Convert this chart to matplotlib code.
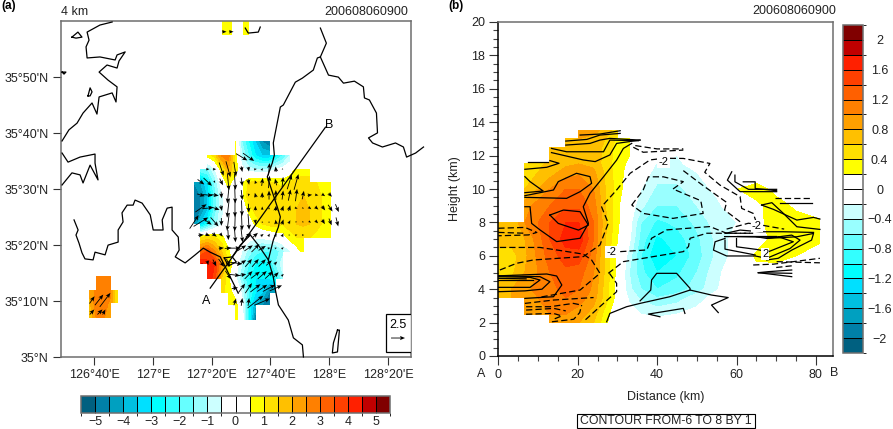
import numpy as np
import matplotlib
matplotlib.use('Agg')
import matplotlib.pyplot as plt
from matplotlib.colors import ListedColormap, BoundaryNorm
from matplotlib.patches import Rectangle
from matplotlib.ticker import MultipleLocator

plt.rcParams['font.family'] = ['Liberation Sans', 'DejaVu Sans']
plt.rcParams['font.size'] = 9

n = np.nan
W, H = 893, 429

shade_colors = ['#006080', '#0080A8', '#00A0C0', '#00C0E0', '#00E0FF', '#00FFFF', '#33FFFF',
                '#66FFFF', '#99FFFF', '#CCFFFF', '#FFFFFF', '#FFFFFF', '#FFFF00', '#FFE000',
                '#FFC000', '#FFA000', '#FF8000', '#FF6000', '#FF4000', '#FF2000', '#C00000', '#800000']
w_levels = np.arange(-5.5, 5.51, 0.5)
t_levels = np.arange(-2.2, 2.21, 0.2)

# panel a: shaded field
grid_lons = np.linspace(127.234, 128.007, 21)
grid_lats = [35.640, 35.599, 35.559, 35.518, 35.479, 35.437, 35.396, 35.357, 35.315, 35.277,
             35.235, 35.193, 35.155, 35.113]
map_field = [
    [n, n, n, n, n, n, 0.6, -1.5, -2.5, -3.5, -4.5, -5, n, n, n, n, n, n, n, n, n],
    [n, n, 0.7, 1.2, 2.5, 2.8, 0.8, -1, -2, -3, -3.5, -3.5, -2.8, -2, -1, n, n, n, n, n, n],
    [n, -1.5, -1.5, -0.6, 0.8, 2, 1, -0.3, -0.8, -1, -1, -1, -0.5, -0.3, 0, 0.6, 0.8, 0.8, n, n, n],
    [-4.5, -4, -3, -1.5, -0.2, 0.8, 0, 0.3, 1.1, 1.2, 1.2, 1.2, 1, 0.8, 1, 1.2, 1.2, 1.2, 1, 0.8, 0.7],
    [-5, -4.5, -3.5, -1.8, -0.7, 0, 0, 0.3, 1.3, 1.3, 1.3, 1.3, 1.3, 1.3, 1.5, 1.5, 1.5, 1.5, 1.2, 0.9, 0.7],
    [-5, -4.5, -3.5, -1.8, -0.7, 0, 0, 0, 0.6, 1.2, 1.3, 1.3, 1.3, 1.3, 1.5, 1.5, 1.6, 1.5, 1.2, 0.9, 0.7],
    [-4.5, -3.5, -2.5, -1.3, -0.6, 0, 0, 0, 0.1, 0.6, 1, 1.2, 1.3, 1, 1.2, 1.5, 1.6, 1.5, 1.2, 0.9, 0.7],
    [n, 0.9, 1.1, 1, 0.7, 0, 0, 0, -0.2, -0.3, -0.3, -0.2, 0, 0.2, 0.8, 1, 1, 1, 0.8, 0.7, 0.6],
    [n, 3, 3.5, 2.5, 1.5, 0.6, 0, -0.5, -1.2, -1.8, -2, -2, -1.8, -1.2, -0.6, 0.2, 0.7, n, n, n, n],
    [n, 4.6, 4.2, 4, 2.5, 1, 0, -1, -2, -2.5, -2.8, -2.5, -1.5, -0.7, n, n, n, n, n, n, n],
    [n, n, 4.3, 3.8, 1.5, 0.6, -0.3, -1.5, -2.5, -3, -3, -3, -2.5, -1.2, n, n, n, n, n, n, n],
    [n, n, n, n, 1.2, 0.8, 0.2, -0.6, -2, -3, -3.5, -4.5, -4.5, n, n, n, n, n, n, n, n],
    [n, n, n, n, n, 0.8, 0.8, -0.2, -2.5, -4, -4.5, -5, n, n, n, n, n, n, n, n, n],
    [n, n, n, n, n, n, 0.8, 0, -2.5, -5, n, n, n, n, n, n, n, n, n, n, n],
]
patch_lons = [126.638, 126.678, 126.717, 126.757, 126.797]
patch_lats = [35.241, 35.199, 35.161, 35.119]
patch_field = [
    [n, 2.7, 2.8, 2.8, n],
    [2, 2.7, 2.8, 2.7, 1],
    [1.8, 2.8, 2.8, 2.4, 1],
    [1.5, 2.5, 2.6, 2.2, n],
]
top_lons = [127.393, 127.45, 127.48, 127.513, 127.547]
top_lats = [35.958, 36.0]
top_field = [[0.8, 0.8, n, 0.8, 0.8], [0.8, 0.8, n, 0.8, 0.8]]

# panel a: wind arrows, one row per latitude (first column index, u, v)
arrow_lons = np.linspace(127.234, 128.045, 22)
arrow_lats = [35.595, 35.559, 35.521, 35.482, 35.443, 35.402, 35.363, 35.324, 35.280, 35.244, 35.205, 35.164]
arrow_start = [7, 2, 1, 1, 1, 0, 1, 4, 2, 5, 6, 6]
arrow_u = [
    [2, 2],
    [0.6, 0.6, 0.8, 0.8, 0.4, 0.2, 0.1, 0.5, 0.3, 0.2, -0.1, 0.2],
    [1.2, 1.5, 0.2, 0.6, 0.3, 0.2, 0.2, 0.2, -0.2, 0.2, 0.2, -0.3, 0.2, 0.8, 0.8],
    [1.4, 1.8, 1.5, 0.1, -0.3, 0.1, 0.2, -0.1, -0.2, 0, 0, 0, 0.2, 0.4, 0.3, 0.3, 0.8, 0.6, 0.6, 0.6],
    [2, 2, 1.8, 0.2, -0.4, 0, 0.1, 0.1, 0, 0, 0, 0.1, 0.3, 0.3, 0.5, 0.3, 0.5, 0.6, 0.6, 0.8, 0.6],
    [1.6, 2.6, 1.4, 1.4, 0, -0.4, -0.1, 0.1, 0.2, 0.1, -0.1, 0, -0.1, 0.3, 0.3, 0.3, 0.3, 0.4, 0.5, 0.5, 0.5, 0.4],
    [1, 0.8, 0.8, 0.5, 0.1, 0.2, 0.3, 1, 0.9, 0.5, 0.3, 0.3, 0.3, 0.3, 0.4, 0.4],
    [0.9, 1.2, 2, 1.6, 1.5, 1.4, 1.3, 0.5, 0.4, 0.4],
    [0.2, 0.6, 1, 0.6, 2.6, 1.6, 1.2, 1.2, 1.3, 1, 0.5],
    [1, 1.8, 1.6, 1.4, 1.6, 1.6, 1.4, 1, 0.4],
    [1.1, 1.2, 1.2, 1.8, 1.8, 2.2, 2.2],
    [0.4, 0.2, 0.2, 2.8, 2.8],
]
arrow_v = [
    [-1.2, -1.4],
    [0, 0, -2.4, -2.8, -2.6, -1, -0.8, 0.1, 0.4, 2.2, 1, -0.2],
    [-0.9, -1.4, -0.4, -1.2, -3, -2.8, -1.5, -1, 0.6, 1.4, 2.2, 1.2, 1.8, 2.6, 2.8],
    [-0.4, -0.2, -0.2, -1.2, -3, -3, -1.8, -0.5, 0.8, 1, 1.6, 1.8, 1.6, 2, 2.2, 1.5, 0.1, -0.1, -0.4, -0.6],
    [1.4, 0.2, -0.6, -1, -3.4, -3.2, -2.8, -1.6, 0.8, 0.6, 0.4, 0.9, 0.9, 1, -0.2, -0.2, -0.4, -0.5, -0.8, -1.2, -1.4],
    [2.4, 1.6, -1, -1.6, -1.4, -3.2, -3.4, -3, -2.8, -0.8, 0.3, 0.3, 0.8, 0.9, 0.6, 0, -0.1, -0.3, -0.5, -0.8, -1.2, -1.6],
    [0.1, -0.3, -0.6, -0.6, -1.8, -2.6, -2.6, 0.6, 0.8, 0.4, 0.5, 0.5, 0.6, 0, 0.1, 0],
    [0.1, 0.1, 0, 1, 1, 1.4, 0.8, 0.1, 0.1, 0.3],
    [-0.8, -1.2, -1.4, -1.4, -0.4, 1, 1.4, 1.4, 1.3, 0.9, 0.5],
    [-1.5, -0.2, 0.3, 1.4, 1.2, 1.4, 1.3, 1, 0.4],
    [0.2, 1.6, 1.8, 1.4, 1.2, 1.2, 1],
    [1.2, 1.4, 1.4, 2.2, 1.2],
]
patch_arrow_lon = [126.655, 126.695, 126.729, 126.655, 126.700, 126.723]
patch_arrow_lat = [35.170, 35.170, 35.170, 35.134, 35.134, 35.134]
patch_arrow_u = [0.9, 1.5, 1.9, 0.8, 0.9, 0.5]
patch_arrow_v = [1.3, 1.9, 2.5, 0.9, 0.9, 0.9]
top_arrow_lon = [127.405, 127.445]
top_arrow_lat = [35.968, 35.968]
top_arrow_u = [0.8, 0.8]
top_arrow_v = [0, 0]

# panel a: coast lines as (lon, lat)
coast_lines = [
    [(126.769, 35.997), (126.700, 35.988), (126.627, 35.967), (126.638, 35.943), (126.621, 35.923),
     (126.627, 35.890), (126.700, 35.893), (126.786, 35.884), (126.797, 35.899), (126.843, 35.908),
     (126.808, 35.881), (126.797, 35.860), (126.740, 35.869), (126.695, 35.848), (126.746, 35.824),
     (126.797, 35.804), (126.791, 35.759), (126.769, 35.786), (126.695, 35.774), (126.683, 35.723),
     (126.655, 35.756), (126.604, 35.726), (126.570, 35.696), (126.524, 35.676), (126.485, 35.643)],
    [(126.485, 35.607), (126.519, 35.580), (126.587, 35.595), (126.672, 35.604), (126.672, 35.577),
     (126.689, 35.527), (126.644, 35.571), (126.604, 35.518), (126.587, 35.542), (126.541, 35.548),
     (126.485, 35.512)],
    [(126.553, 35.408), (126.576, 35.378), (126.564, 35.363), (126.581, 35.339), (126.598, 35.310),
     (126.615, 35.292), (126.661, 35.289), (126.672, 35.312), (126.729, 35.304), (126.746, 35.333),
     (126.803, 35.342), (126.803, 35.378), (126.831, 35.402), (126.825, 35.429), (126.854, 35.452),
     (126.888, 35.452), (126.899, 35.467), (126.939, 35.458), (126.985, 35.423), (127.002, 35.378),
     (127.058, 35.378), (127.053, 35.408), (127.081, 35.443), (127.109, 35.446), (127.109, 35.378),
     (127.144, 35.357), (127.149, 35.318), (127.127, 35.298), (127.183, 35.280), (127.240, 35.304),
     (127.286, 35.324), (127.325, 35.312), (127.382, 35.298), (127.411, 35.268), (127.484, 35.190)],
    [(127.405, 35.295), (127.450, 35.298), (127.473, 35.283), (127.428, 35.271), (127.405, 35.295)],
    [(127.450, 35.298), (127.496, 35.333), (127.553, 35.363), (127.598, 35.333), (127.655, 35.289),
     (127.683, 35.238), (127.695, 35.199), (127.712, 35.155), (127.768, 35.110), (127.797, 35.057),
     (127.848, 35.036), (127.854, 35.0)],
    [(127.950, 35.979), (127.984, 35.934), (127.950, 35.893), (127.933, 35.890), (127.910, 35.854),
     (127.848, 35.830), (127.808, 35.818), (127.791, 35.801), (127.740, 35.750), (127.723, 35.744),
     (127.683, 35.637), (127.689, 35.601), (127.677, 35.577), (127.649, 35.536), (127.706, 35.446),
     (127.723, 35.417), (127.712, 35.387), (127.683, 35.348), (127.655, 35.289)],
    [(127.950, 35.893), (127.996, 35.839), (128.052, 35.833), (128.081, 35.815), (128.143, 35.821),
     (128.194, 35.804), (128.200, 35.771), (128.228, 35.765), (128.268, 35.726), (128.274, 35.667),
     (128.223, 35.652), (128.246, 35.637), (128.302, 35.625), (128.376, 35.637), (128.421, 35.625),
     (128.439, 35.595), (128.490, 35.607), (128.535, 35.625)],
    [(127.524, 35.979), (127.541, 35.964), (127.598, 35.967), (127.609, 35.982)],
    [(126.541, 35.952), (126.575, 35.967), (126.598, 35.952), (126.564, 35.949), (126.541, 35.952)],
    [(126.632, 35.777), (126.644, 35.801), (126.655, 35.789), (126.644, 35.777), (126.632, 35.777)],
    [(126.485, 35.848), (126.507, 35.848), (126.496, 35.842), (126.485, 35.848)],
    [(128.047, 35.080), (128.024, 35.042), (128.018, 35.012), (128.047, 35.015), (128.058, 35.080),
     (128.047, 35.080)],
]
section_lon = [127.325, 127.979]
section_lat = [35.205, 35.684]

lon_ticks = [126 + 2 / 3, 127, 127 + 1 / 3, 127 + 2 / 3, 128, 128 + 1 / 3]
lon_labels = ["126°40'E", "127°E", "127°20'E", "127°40'E", "128°E", "128°20'E"]
lat_ticks = [35, 35 + 1 / 6, 35 + 2 / 6, 35.5, 35 + 4 / 6, 35 + 5 / 6]
lat_labels = ["35°N", "35°10'N", "35°20'N", "35°30'N", "35°40'N", "35°50'N"]

# panel b: shaded section
section_km = [0, 3.35, 6.7, 10, 13, 17, 20.3, 24, 27, 30, 33, 36, 40, 45, 50, 55, 60, 65, 70, 75, 81]
section_z = [2, 2.5, 3.5, 4, 5, 6, 7, 8, 9, 10, 11, 11.5, 12, 12.5, 13, 13.5]
section_field = [
    [n, n, n, n, .9, .9, .8, .6, .25, -.05, -.08, -.1, -.1, -.1, -.05, 0, 0, 0, 0, 0, 0],
    [n, n, .9, .95, 1, 1, .9, .7, .3, 0, -.1, -.2, -.25, -.2, -.12, 0, 0, 0, 0, 0, 0],
    [.7, .8, .95, 1, 1.1, 1.2, 1.1, .9, .5, .1, -.25, -.45, -.6, -.5, -.3, -.1, 0, 0, 0, 0, 0],
    [.75, .8, .95, 1.05, 1.15, 1.25, 1.2, .95, .5, .1, -.35, -.6, -.8, -.7, -.5, -.22, 0, 0, 0, 0, 0],
    [.45, .55, .8, 1, 1.2, 1.35, 1.3, 1, .55, .12, -.4, -.75, -1, -.85, -.6, -.25, -.05, .1, .05, 0, 0],
    [.5, .5, .75, 1.05, 1.3, 1.5, 1.5, 1.1, .55, .15, -.3, -.8, -1.2, -1, -.7, -.35, -.1, .25, .3, .2, .05],
    [.7, .7, .8, 1.1, 1.4, 1.7, 1.75, 1.2, .6, .2, -.15, -.7, -1.05, -.9, -.65, -.35, -.1, .05, .3, .35, .25],
    [.6, .6, 1, 1.2, 1.4, 1.6, 1.6, 1.2, .65, .25, -.1, -.6, -.85, -.75, -.55, -.3, -.2, .1, .35, .3, .25],
    [n, n, .9, 1.1, 1.2, 1.35, 1.35, 1.1, .6, .25, -.05, -.35, -.6, -.6, -.4, -.25, -.05, .15, .3, .15, 0],
    [n, n, .6, .8, 1, 1.2, 1.2, 1, .6, .3, .05, -.2, -.45, -.45, -.3, -.15, .19, .3, .12, 0, 0],
    [n, n, .45, .6, .7, .9, .95, .85, .55, .3, .1, -.05, -.3, -.3, -.2, -.05, 0, 0, 0, 0, 0],
    [n, n, .45, .55, .65, .75, .8, .75, .5, .3, .15, 0, -.22, -.25, -.1, 0, 0, 0, 0, 0, 0],
    [n, n, n, n, .65, .7, .75, .7, .55, .3, .2, 0, -.05, -.2, 0, 0, 0, 0, 0, 0, 0],
    [n, n, n, n, .7, .65, .7, .7, .55, .3, .2, 0, 0, 0, 0, 0, 0, 0, 0, 0, 0],
    [n, n, n, n, n, .75, .8, .75, .6, .35, .2, .05, 0, 0, 0, 0, 0, 0, 0, 0, 0],
    [n, n, n, n, n, n, .85, .85, .75, .45, n, n, n, n, n, n, n, n, n, n, n],
]

# panel b: contour lines as (km, height)
solid_lines = [
    [(20.6, 13.23), (25.6, 13.29), (30.7, 13.49)],
    [(17, 12.87), (22.3, 12.97), (25.6, 13.23), (30.7, 13.33)],
    [(17, 12.63), (23.1, 12.73), (25.6, 12.93), (28.1, 13.03), (35.7, 12.93)],
    [(13.4, 12.43), (17.2, 12.23), (26.5, 12.23), (28.1, 12.93), (35.3, 12.89)],
    [(13.4, 12.18), (21.4, 11.74), (24.4, 11.64), (28.1, 12.04), (29.8, 12.73), (35.7, 12.93)],
    [(7.6, 11.6), (12.6, 11.6)],
    [(6.7, 11.18), (12.2, 11.3), (15.3, 11.54), (13, 11.7)],
    [(6.7, 10.74), (8, 10.44), (11.3, 9.88), (6.7, 9.78)],
    [(6.7, 9.6), (13.9, 9.94), (15.1, 10.44), (19.7, 10.94), (23.1, 10.74), (23.5, 10.34), (20.6, 9.84),
     (17.2, 9.44), (6.7, 9.5)],
    [(33.6, 12.73), (31.5, 12.43), (29.8, 11.73), (26.5, 10.73), (23.1, 9.74), (21.4, 8.94), (22.7, 7.94),
     (20.6, 7.05), (14.7, 6.85), (10.5, 7.55), (8.4, 7.94), (8, 8.94), (6.7, 8.94)],
    [(13, 8.44), (16.4, 8.74), (20.6, 8.64), (22.7, 7.84), (20.2, 7.54), (15.1, 7.94), (13, 8.44)],
    [(0, 4.75), (8, 4.71), (10.5, 4.55), (8, 4.11), (0, 4.11)],
    [(0, 4.55), (8.8, 4.55)],
    [(0, 4.65), (7, 4.62)],
    [(0, 3.85), (6.7, 3.9), (11, 4.0), (13, 4.45), (10.5, 4.75), (0, 4.8)],
    [(6.7, 3.45), (13.9, 3.55), (16, 4.25), (14.7, 4.79), (12.2, 4.91), (0, 4.8)],
    [(27.3, 2.05), (28.1, 2.55), (32.3, 2.95), (35.7, 3.15), (43.2, 3.55), (48.3, 3.95), (53.7, 3.65),
     (57.9, 3.5), (53.7, 3.05), (55.4, 2.6)],
    [(35.7, 3.3), (38.4, 3.95), (38.6, 4.55), (39.9, 4.95), (44.9, 4.95), (48.3, 4.05), (48.3, 3.95)],
    [(40.7, 2.35), (37.8, 2.51), (46.6, 2.85), (47, 2.55)],
    [(57.1, 7.04), (54.6, 6.84), (54.2, 6.34), (57.5, 5.99), (64.7, 5.99), (67.6, 5.85), (73.5, 6.44),
     (76, 6.94), (73.9, 7.24), (67.6, 7.04)],
    [(60, 7.04), (60, 6.54), (65.1, 6.38), (68, 6.24), (74.3, 6.84), (70.5, 7.14)],
    [(57.1, 6.94), (57.1, 6.4), (64.7, 6.05)],
    [(65, 7.14), (67.6, 7.04), (75.2, 7.14), (79.4, 7.34), (78.9, 6.94), (73.9, 6.34), (70.5, 5.85), (67.6, 5.75)],
    [(57.1, 7.34), (60.9, 7.54), (65.9, 7.44), (71.8, 7.44), (79.4, 7.4)],
    [(57, 7.15), (60, 7.15), (71, 7.1)],
    [(60, 7.2), (70, 7.2)],
    [(66.3, 9.04), (68.9, 9.18), (71.8, 8.54), (75.2, 7.74), (81, 7.58)],
    [(66.3, 9.04), (69.3, 8.78), (75.2, 8.14), (79.4, 8.3), (81, 8.2)],
    [(58.8, 11.03), (57.7, 10.53), (60.9, 9.84), (64.7, 9.84), (70.1, 9.84)],
    [(59.6, 10.83), (59.6, 10.43), (63, 9.98), (70.1, 9.98)],
    [(61.7, 10.43), (64.7, 10.43), (64.7, 10.03), (70.1, 9.9)],
    [(71, 9.18), (78.9, 9.18)],
    [(65.5, 4.99), (68, 5.05), (73.9, 5.15)],
    [(65.5, 4.99), (73.9, 4.95)],
    [(65.5, 4.99), (73.9, 4.75)],
]
dashed_lines = [
    [(6.7, 3.15), (13.9, 3.35), (20.6, 3.45), (24, 3.5)],
    [(7, 2.95), (13, 2.95), (18.9, 3.15), (21, 3.05)],
    [(7, 2.75), (14, 2.85), (17, 2.7)],
    [(7, 2.5), (13.9, 2.55), (16, 2.4), (13.9, 2.2)],
    [(13.5, 2.05), (19, 2.2), (20.5, 2.6), (21, 3.05)],
    [(0, 7.65), (6.7, 7.7), (9.7, 7.4), (7.6, 7.25), (0, 7.2)],
    [(0, 7.4), (7, 7.35)],
    [(0.4, 6.5), (10.5, 6.5), (14.7, 6.35), (21.4, 6.1), (23.5, 5.75), (25.6, 4.95), (23.1, 4.45), (20.6, 3.95), (10, 3.5)],
    [(0.4, 5.15), (4.6, 5.55), (8.8, 5.75), (21.4, 5.95), (25.6, 6.65), (27.7, 7.95), (26, 8.94), (29.8, 9.94),
     (33.2, 10.94), (38.2, 11.74), (41.6, 11.84), (46.6, 11.83), (53.3, 11.53), (52, 11), (55.8, 10.24),
     (60.9, 9.54), (61.3, 8.84), (64.2, 8.54), (65, 8)],
    [(28, 4.95), (29.8, 4.35), (29.8, 3.85), (26.5, 3.15), (21.4, 2.05)],
    [(30.7, 6.25), (37.4, 6.35), (38.6, 7.05), (42.4, 7.55), (53.3, 7.75), (57.5, 7.35), (64.2, 7.35)],
    [(27.7, 4.95), (31.5, 5.65), (39, 5.95), (46.6, 6.25), (47.9, 6.55), (48.3, 7.05), (52.5, 7.35), (64, 7.35)],
    [(33.6, 9.04), (36.5, 9.94), (37.8, 10.73), (41.6, 10.73), (46.6, 10.44), (44, 10), (51, 9.3), (51.6, 8.54),
     (44, 8.24), (36.5, 8.54), (33.6, 9.04)],
    [(34, 12.5), (36.5, 12.2), (46.6, 12.33)],
    [(34.5, 12.6), (40, 12.4), (46.6, 12.4)],
    [(46.6, 11.1), (51.6, 10.2), (57.5, 9.2), (57, 8.74), (60.9, 8.04)],
    [(69.7, 9.44), (78.9, 9.44)],
    [(64.2, 5.45), (69.3, 5.5), (81, 5.85)],
    [(70.1, 5.65), (81, 5.58)],
    [(70, 5.3), (73.9, 5.4)],
    [(57.5, 7.6), (63, 7.95), (66, 7.85), (72, 7.6)],
]
contour_labels = ['-2', '-2', '-2', '2']
label_km = [28.5, 41.6, 65.1, 67.2]
label_z = [6.25, 11.6, 7.8, 6.09]

km_ticks = [0, 20, 40, 60, 80]
height_ticks = list(range(0, 21, 2))
w_ticks = [-5, -4, -3, -2, -1, 0, 1, 2, 3, 4, 5]
w_tick_labels = ['−5', '−4', '−3', '−2', '−1', '0', '1', '2', '3', '4', '5']
t_ticks = [-2, -1.6, -1.2, -0.8, -0.4, 0, 0.4, 0.8, 1.2, 1.6, 2]
t_tick_labels = ['−2', '−1.6', '−1.2', '−0.8', '−0.4', '0', '0.4', '0.8', '1.2', '1.6', '2']


def box(x0, y0, x1, y1):
    # pixel box from the top left corner to figure fractions
    return [x0 / W, 1 - y1 / H, (x1 - x0) / W, (y1 - y0) / H]


cmap = ListedColormap(shade_colors)
w_norm = BoundaryNorm(w_levels, cmap.N)
t_norm = BoundaryNorm(t_levels, cmap.N)
frame_color = '#6e6e6e'

fig = plt.figure(figsize=(W / 100, H / 100), dpi=100)

# panel a
ax = fig.add_axes(box(61, 21, 411, 357))
cf = ax.contourf(grid_lons, grid_lats, np.array(map_field), levels=w_levels, cmap=cmap, norm=w_norm,
                 corner_mask=False)
ax.contourf(patch_lons, patch_lats, np.array(patch_field), levels=w_levels, cmap=cmap, norm=w_norm,
            corner_mask=False)
ax.contourf(top_lons, top_lats, np.array(top_field), levels=w_levels, cmap=cmap, norm=w_norm,
            corner_mask=False)

for line in coast_lines:
    xs, ys = zip(*line)
    ax.plot(xs, ys, color='black', lw=0.9, clip_on=False, zorder=3)
ax.plot(section_lon, section_lat, color='black', lw=0.9, zorder=4)
ax.text(127.303, 35.185, 'A', ha='center', va='top', fontsize=9, zorder=5)
ax.text(128.001, 35.69, 'B', ha='center', va='center', fontsize=9, zorder=5)

qx, qy, qu, qv = list(patch_arrow_lon) + top_arrow_lon, list(patch_arrow_lat) + top_arrow_lat, \
    list(patch_arrow_u) + top_arrow_u, list(patch_arrow_v) + top_arrow_v
for lat, start, us, vs in zip(arrow_lats, arrow_start, arrow_u, arrow_v):
    for i, (u, v) in enumerate(zip(us, vs)):
        qx.append(arrow_lons[start + i])
        qy.append(lat)
        qu.append(u)
        qv.append(v)
q = ax.quiver(qx, qy, qu, qv, angles='uv', scale_units='inches', scale=17.86, units='dots', width=0.85,
              headwidth=5, headlength=6, headaxislength=5, pivot='mid', color='black', zorder=4)

ax.add_patch(Rectangle((0.928, 0.016), 0.072, 0.112, transform=ax.transAxes, fc='white', ec='black', lw=0.9, zorder=6))
ax.quiverkey(q, 0.963, 0.0565, 2.5, '2.5', labelpos='N', labelsep=0.07, zorder=7,
             fontproperties={'size': 9})

ax.set_xlim(126.479, 128.464)
ax.set_ylim(35, 36)
ax.set_xticks(lon_ticks)
ax.set_xticklabels(lon_labels)
ax.set_yticks(lat_ticks)
ax.set_yticklabels(lat_labels)
ax.tick_params(length=5.8, width=0.8, labelsize=9, pad=3, color='#333333', labelcolor='#222222')
for s in ax.spines.values():
    s.set_color(frame_color)
    s.set_linewidth(1.1)

cax1 = fig.add_axes(box(81, 396, 390, 413))
cb1 = fig.colorbar(cf, cax=cax1, orientation='horizontal', drawedges=True)
cb1.set_ticks(w_ticks)
cb1.set_ticklabels(w_tick_labels)
cb1.ax.tick_params(length=0, labelsize=9, pad=2.5, labelcolor='#222222')
cb1.dividers.set_color('black')
cb1.dividers.set_linewidth(0.7)
cb1.outline.set_edgecolor(frame_color)
cb1.outline.set_linewidth(1.1)

fig.text(1 / W, 1 - 6 / H, '(a)', fontweight='bold', fontsize=8.5, ha='left', va='center')
fig.text(61 / W, 1 - 12 / H, '4 km', fontsize=9, ha='left', va='center', color='#222222')
fig.text(408 / W, 1 - 12 / H, '200608060900', fontsize=9, ha='right', va='center', color='#222222')

# panel b
ax2 = fig.add_axes(box(498.3, 22, 833, 356))
cf2 = ax2.contourf(section_km, section_z, np.array(section_field), levels=t_levels, cmap=cmap, norm=t_norm,
                   corner_mask=False)
for line in solid_lines:
    xs, ys = zip(*line)
    ax2.plot(xs, ys, color='black', lw=0.9, zorder=3)
for line in dashed_lines:
    xs, ys = zip(*line)
    ax2.plot(xs, ys, color='black', lw=0.9, dashes=(5, 2.5), zorder=3)
for txt, x, y in zip(contour_labels, label_km, label_z):
    ax2.text(x, y, txt, fontsize=8, ha='center', va='center', zorder=5,
             bbox=dict(fc='white', ec='none', pad=0.8))

ax2.set_xlim(0, 84.3)
ax2.set_ylim(0, 20)
ax2.set_xticks(km_ticks)
ax2.set_yticks(height_ticks)
ax2.xaxis.set_minor_locator(MultipleLocator(5))
ax2.yaxis.set_minor_locator(MultipleLocator(0.5))
ax2.tick_params(which='major', length=6.5, width=0.8, labelsize=9, pad=3, color='#333333', labelcolor='#222222')
ax2.tick_params(which='minor', length=3.6, width=0.8, color='#444444')
ax2.set_xlabel('Distance (km)', fontsize=9, labelpad=7, color='#222222')
ax2.set_ylabel('Height (km)', fontsize=9, labelpad=7, color='#222222')
for name, s in ax2.spines.items():
    s.set_color(frame_color if name in ('top', 'right') else 'black')
    s.set_linewidth(1.1)

cax2 = fig.add_axes(box(843, 25, 863, 353))
cb2 = fig.colorbar(cf2, cax=cax2, drawedges=True)
cb2.set_ticks(t_ticks)
cb2.set_ticklabels(t_tick_labels)
cb2.ax.tick_params(length=0, labelsize=9, pad=12, labelcolor='#222222')
for lab in cb2.ax.get_yticklabels():
    lab.set_ha('center')
cb2.dividers.set_color('black')
cb2.dividers.set_linewidth(0.7)
cb2.outline.set_edgecolor(frame_color)
cb2.outline.set_linewidth(1.1)

fig.text(448 / W, 1 - 6 / H, '(b)', fontweight='bold', fontsize=8.5, ha='left', va='center')
fig.text(836 / W, 1 - 11 / H, '200608060900', fontsize=9, ha='right', va='center', color='#222222')
fig.text(481 / W, 1 - 374 / H, 'A', fontsize=9, ha='center', va='center', color='#222222')
fig.text(834 / W, 1 - 373 / H, 'B', fontsize=9, ha='center', va='center', color='#222222')
fig.add_artist(Rectangle((577 / W, 1 - 428 / H), 178 / W, 14 / H, transform=fig.transFigure, fc='white',
                         ec='black', lw=0.8))
fig.text(666 / W, 1 - 421 / H, 'CONTOUR FROM-6 TO 8 BY 1', fontsize=8.8, ha='center', va='center', color='#222222')

fig.savefig('out.png', dpi=100)
